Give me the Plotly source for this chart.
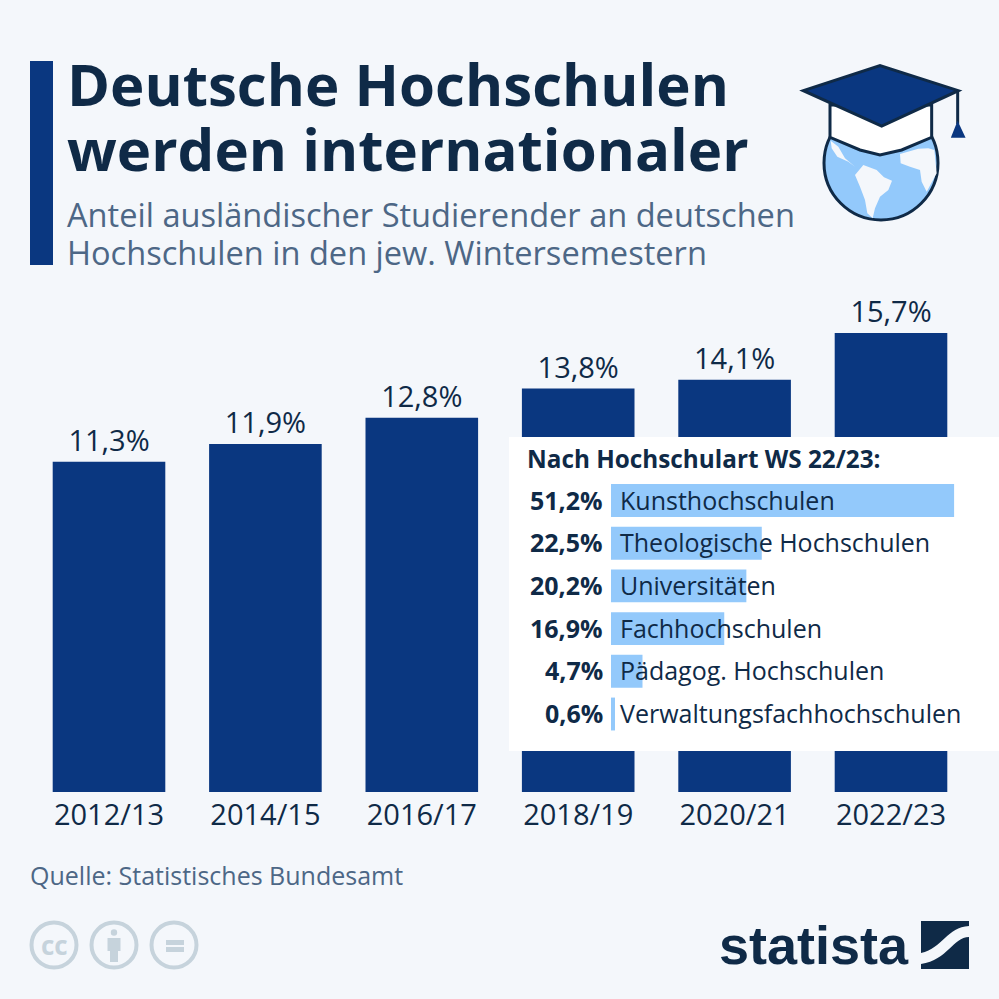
import plotly.graph_objects as go

# Main chart data
semesters = ["2012/13", "2014/15", "2016/17", "2018/19", "2020/21", "2022/23"]
shares = [11.3, 11.9, 12.8, 13.8, 14.1, 15.7]

# Inset data
school_types = ["Kunsthochschulen", "Theologische Hochschulen", "Universitäten",
                "Fachhochschulen", "Pädagog. Hochschulen", "Verwaltungsfachhochschulen"]
school_shares = [51.2, 22.5, 20.2, 16.9, 4.7, 0.6]

NAVY = "#0a3780"
DARK = "#0f2a47"
SLATE = "#4d6786"
LIGHT = "#93c9fb"
BG = "#f4f7fb"
GREY = "#c6d3dc"
FONT = "Open Sans"

# inset axes: the domain is the white panel, zero of x2 lands on px 611
INSET_X = [-15.22, 57.9]
INSET_Y = [5.866, -1.487]


def de_pct(v):
    return f"{v:.1f}%".replace(".", ",")


# pixel helpers, the layout is a fixed 999 square
def px(x):
    return x / 999


def py(y):
    return 1 - y / 999


def poly(points, close=True):
    d = "M " + " L ".join(f"{px(x)} {py(y)}" for x, y in points)
    return d + (" Z" if close else "")


def zoomed(points):
    return [(780 + x / 3, 50 + y / 3) for x, y in points]


def box(x0, y0, x1, y1, color):
    return dict(type="rect", xref="paper", yref="paper", x0=px(x0), x1=px(x1), y0=py(y1), y1=py(y0),
                fillcolor=color, line_width=0)


def circle(cx, cy, r, fill, line_color, line_width):
    return dict(type="circle", xref="paper", yref="paper", x0=px(cx - r), x1=px(cx + r),
                y0=py(cy + r), y1=py(cy - r), fillcolor=fill,
                line=dict(color=line_color, width=line_width))


def outline(points, fill, line_color=None, line_width=0):
    return dict(type="path", xref="paper", yref="paper", path=poly(zoomed(points)), fillcolor=fill,
                line=dict(color=line_color or fill, width=line_width))


def label(x, y, text, size, color, anchor="left", bold=False, family=FONT):
    return dict(x=px(x), y=py(y), xref="paper", yref="paper", text=f"<b>{text}</b>" if bold else text,
                showarrow=False, xanchor=anchor, yanchor="middle", borderpad=0,
                font=dict(family=family, size=size, color=color))


def curve(start, segments, end):
    # closed path made of one start point, cubic segments and straight end points
    d = f"M {px(start[0])} {py(start[1])}"
    for c1, c2, p in segments:
        d += f" C {px(c1[0])} {py(c1[1])} {px(c2[0])} {py(c2[1])} {px(p[0])} {py(p[1])}"
    for p in end:
        d += f" L {px(p[0])} {py(p[1])}"
    return dict(type="path", xref="paper", yref="paper", path=d + " Z", fillcolor=DARK, line_width=0)


fig = go.Figure()

fig.add_trace(go.Bar(
    x=semesters, y=shares, width=0.72, marker_color=NAVY, marker_line_width=0,
    text=[de_pct(v) for v in shares], textposition="outside", cliponaxis=False,
    textfont=dict(family=FONT, size=29, color=DARK), constraintext="none",
))

fig.add_trace(go.Bar(
    x=school_shares, y=school_types, orientation="h", width=0.77, xaxis="x2", yaxis="y2",
    marker_color=LIGHT, marker_line_width=0,
))

shapes = [
    box(30, 61, 53, 265, NAVY),
    # white inset panel, sits under the inset bars
    dict(type="rect", xref="x2", yref="y2", x0=INSET_X[0], x1=INSET_X[1], y0=INSET_Y[0], y1=INSET_Y[1],
         fillcolor="white", line_width=0, layer="between"),
    # globe
    circle(881, 163, 57, LIGHT, DARK, 3),
    outline([(225, 375), (250, 345), (290, 360), (312, 382), (336, 392), (325, 420), (300, 440),
             (285, 475), (278, 505), (262, 490), (255, 450), (240, 410)], BG),
    outline([(152, 272), (175, 290), (195, 325), (225, 350), (205, 335), (172, 320), (155, 295)], BG),
    outline([(360, 312), (415, 296), (445, 295), (463, 300), (470, 370), (440, 425), (425, 395), (420, 360),
             (390, 350), (362, 340)], BG),
    # cap
    outline([(150, 165), (150, 262), (240, 300), (300, 315), (365, 300), (455, 262), (455, 165)],
            "white", DARK, 3),
    outline([(70, 122), (300, 47), (535, 122), (305, 228)], NAVY, DARK, 3),
    dict(type="path", xref="paper", yref="paper", path=poly(zoomed([(533, 122), (533, 222)]), close=False),
         line=dict(color=DARK, width=3)),
    outline([(517, 260), (533, 220), (552, 260)], NAVY, NAVY, 2),
    # licence icons
    circle(54, 945, 22.5, "rgba(0,0,0,0)", GREY, 4),
    circle(114, 945, 22.5, "rgba(0,0,0,0)", GREY, 4),
    circle(174, 945, 22.5, "rgba(0,0,0,0)", GREY, 4),
    circle(114, 932.5, 3.2, GREY, GREY, 0),
    box(107.5, 938, 120.5, 951, GREY),
    box(110, 951, 118, 962, GREY),
    box(166, 940, 184, 945, GREY),
    box(166, 947, 184, 952, GREY),
    # statista mark, two dark pieces with the white S left open between them
    curve((921, 921),
          [((921, 921), (969, 921), (969, 921)),
           ((969, 921), (969, 926), (969, 926)),
           ((947, 927), (943, 948), (921, 953))],
          []),
    curve((969, 937),
          [((953, 937), (948, 960), (921, 964))],
          [(921, 969), (969, 969)]),
]

annotations = [
    label(66, 83, "Deutsche Hochschulen", 58.2, DARK, bold=True),
    label(66, 148, "werden internationaler", 58.2, DARK, bold=True),
    label(66, 214, "Anteil ausländischer Studierender an deutschen", 32.6, SLATE),
    label(66, 253, "Hochschulen in den jew. Wintersemestern", 32.6, SLATE),
    label(526, 459, "Nach Hochschulart WS 22/23:", 24.3, DARK, bold=True),
    label(29, 875, "Quelle: Statistisches Bundesamt", 25, SLATE),
    label(54, 945, "cc", 26, GREY, anchor="center", bold=True),
    label(910, 945, "statista", 54, DARK, anchor="right", bold=True, family="Liberation Sans"),
]

for name, value in zip(school_types, school_shares):
    annotations.append(dict(x=0, y=name, xref="x2", yref="y2", text=f"<b>{de_pct(value)}</b>", showarrow=False,
                            xanchor="right", xshift=-6, yshift=1, font=dict(family=FONT, size=25, color=DARK)))
    annotations.append(dict(x=0, y=name, xref="x2", yref="y2", text=name, showarrow=False,
                            xanchor="left", xshift=7, yshift=1, font=dict(family=FONT, size=25, color=DARK)))

fig.update_layout(
    width=999, height=999,
    margin=dict(l=0, r=0, t=0, b=0),
    paper_bgcolor=BG, plot_bgcolor="rgba(0,0,0,0)",
    showlegend=False, shapes=shapes, annotations=annotations,
    font=dict(family=FONT, color=DARK),
    xaxis=dict(domain=[30.8 / 999, 969.2 / 999], anchor="y", type="category", range=[-0.5, 5.5],
               showgrid=False, zeroline=False, showline=False, ticks="", ticklabelstandoff=3,
               tickfont=dict(family=FONT, size=29, color=DARK)),
    yaxis=dict(domain=[py(792), py(295)], anchor="x", range=[0, 17], visible=False),
    xaxis2=dict(domain=[509 / 999, 1], anchor="y2", range=INSET_X, visible=False),
    yaxis2=dict(domain=[py(751), py(437)], anchor="x2", type="category", categoryorder="array",
                categoryarray=school_types, range=INSET_Y, visible=False),
)

fig.write_html("out.html", config={"displayModeBar": False}, post_script="document.body.style.margin='0';")
